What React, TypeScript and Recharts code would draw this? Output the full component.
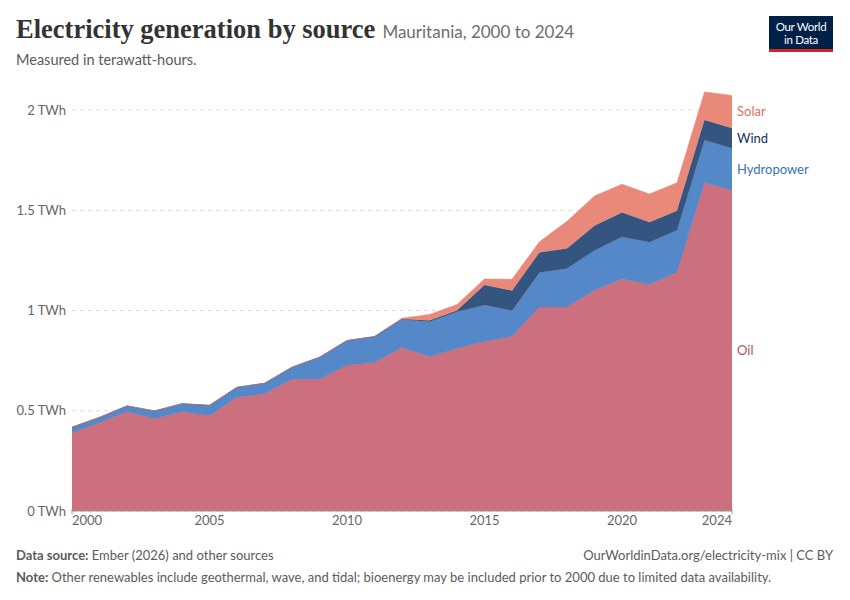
import React from 'react';
import { AreaChart, Area, XAxis, YAxis, CartesianGrid, ReferenceDot } from 'recharts';

const years = [2000, 2001, 2002, 2003, 2004, 2005, 2006, 2007, 2008, 2009, 2010, 2011, 2012,
  2013, 2014, 2015, 2016, 2017, 2018, 2019, 2020, 2021, 2022, 2023, 2024];

// TWh per source
const oil = [0.39, 0.44, 0.495, 0.46, 0.495, 0.475, 0.567, 0.584, 0.657, 0.657, 0.727, 0.74, 0.816,
  0.77, 0.81, 0.845, 0.87, 1.017, 1.017, 1.1, 1.157, 1.13, 1.19, 1.637, 1.6];
const hydropower = [0.028, 0.027, 0.029, 0.039, 0.04, 0.052, 0.05, 0.053, 0.06, 0.11, 0.123, 0.13, 0.142,
  0.174, 0.184, 0.182, 0.129, 0.173, 0.193, 0.2, 0.211, 0.21, 0.21, 0.213, 0.209];
const wind = [0, 0, 0, 0, 0, 0, 0, 0, 0, 0, 0, 0, 0,
  0.006, 0.006, 0.1, 0.1, 0.1, 0.1, 0.123, 0.121, 0.1, 0.098, 0.1, 0.1];
const solar = [0, 0, 0, 0, 0, 0, 0, 0, 0, 0, 0, 0, 0.004,
  0.03, 0.03, 0.03, 0.057, 0.053, 0.135, 0.148, 0.141, 0.141, 0.139, 0.14, 0.164];

const yTicks = [0, 0.5, 1, 1.5, 2];
const xTicks = [2000, 2005, 2010, 2015, 2020, 2024];

const COLORS = {
  oil: '#cc7080',
  hydro: '#5488c8',
  wind: '#33557f',
  solar: '#e8897a',
};

const data = years.map((year, i) => ({
  year,
  oil: oil[i],
  hydropower: hydropower[i],
  wind: wind[i],
  solar: solar[i],
}));

const last = years.length - 1;
const oilTop = oil[last];
const hydroTop = oilTop + hydropower[last];
const windTop = hydroTop + wind[last];
const solarTop = windTop + solar[last];

const seriesLabels = [
  { name: 'Solar', y: (windTop + solarTop) / 2, color: '#e0705e' },
  { name: 'Wind', y: (hydroTop + windTop) / 2, color: '#15335e' },
  { name: 'Hydropower', y: (oilTop + hydroTop) / 2, color: '#3a70bd' },
  { name: 'Oil', y: oilTop / 2, color: '#c24a5e' },
];

const sans = 'Lato, "Noto Sans", sans-serif';

// first and last year labels hug the axis ends, with a small tick mark
const YearTick = (props: any) => {
  const { x, y, payload, index } = props;
  const first = index === 0;
  const lastTick = index === xTicks.length - 1;
  const anchor = first ? 'start' : lastTick ? 'end' : 'middle';
  return (
    <g>
      {(first || lastTick) && <line x1={x} x2={x} y1={y - 2} y2={y + 3} stroke="#999" />}
      <text x={x} y={y + 14} textAnchor={anchor} fontSize={13} fill="#666" fontFamily={sans}>
        {payload.value}
      </text>
    </g>
  );
};

export default function App() {
  return (
    <div style={{ position: 'absolute', left: 0, top: 0, width: 850, height: 600, background: '#fff', fontFamily: sans }}>
      <div style={{ position: 'absolute', left: 16, top: 14, whiteSpace: 'nowrap' }}>
        <span style={{ fontFamily: '"Liberation Serif", "DejaVu Serif", serif', fontWeight: 700, fontSize: 26.5, color: '#333' }}>
          Electricity generation by source
        </span>
        <span style={{ fontSize: 17, color: '#6e6e6e', marginLeft: 7 }}>Mauritania, 2000 to 2024</span>
      </div>
      <div style={{ position: 'absolute', left: 16, top: 51, fontSize: 14.5, color: '#5b5b5b' }}>
        Measured in terawatt-hours.
      </div>

      <div style={{ position: 'absolute', left: 769, top: 16, width: 64, height: 36, background: '#002147', color: '#fff',
        fontSize: 11.5, lineHeight: '13px', textAlign: 'center', paddingTop: 4, boxSizing: 'border-box', letterSpacing: -0.3 }}>
        Our World<br />in Data
        <div style={{ position: 'absolute', left: 0, bottom: 0, width: 64, height: 3, background: '#ce261e' }} />
      </div>

      <div style={{ position: 'absolute', left: 0, top: 0 }}>
        <AreaChart width={850} height={560} data={data} margin={{ top: 90, right: 118, left: 12, bottom: 0 }}>
          <CartesianGrid horizontal vertical={false} horizontalValues={yTicks} stroke="#dddddd" strokeDasharray="4 4" />
          <XAxis
            dataKey="year"
            type="number"
            domain={[2000, 2024]}
            ticks={xTicks}
            height={49}
            stroke="#999"
            tickLine={false}
            tickSize={0}
            tickMargin={0}
            tick={<YearTick />}
          />
          <YAxis
            type="number"
            domain={[0, 2.1]}
            ticks={yTicks}
            width={60}
            axisLine={false}
            tickLine={false}
            tickSize={0}
            tickMargin={6}
            tickFormatter={(v: number) => `${v} TWh`}
            tick={{ fontSize: 13, fill: '#666', fontFamily: sans }}
          />
          <Area dataKey="oil" stackId="1" type="linear" fill={COLORS.oil} fillOpacity={1} stroke="#b86070" strokeWidth={0.6} isAnimationActive={false} />
          <Area dataKey="hydropower" stackId="1" type="linear" fill={COLORS.hydro} fillOpacity={1} stroke="#6a6a8c" strokeWidth={0.6} isAnimationActive={false} />
          <Area dataKey="wind" stackId="1" type="linear" fill={COLORS.wind} fillOpacity={1} stroke="#2c4a70" strokeWidth={0.6} isAnimationActive={false} />
          <Area dataKey="solar" stackId="1" type="linear" fill={COLORS.solar} fillOpacity={1} stroke={COLORS.solar} strokeWidth={0.6} isAnimationActive={false} />
          {seriesLabels.map((s) => (
            <ReferenceDot
              key={s.name}
              x={2024}
              y={s.y}
              r={0}
              ifOverflow="visible"
              label={{ value: s.name, position: 'right', offset: 5, fill: s.color, fontSize: 13, fontFamily: sans }}
            />
          ))}
        </AreaChart>
      </div>

      <div style={{ position: 'absolute', left: 16, top: 547, fontSize: 13, color: '#5b5b5b' }}>
        <b>Data source:</b> Ember (2026) and other sources
      </div>
      <div style={{ position: 'absolute', right: 17, top: 547, fontSize: 13, color: '#5b5b5b' }}>
        OurWorldinData.org/electricity-mix | CC BY
      </div>
      <div style={{ position: 'absolute', left: 16, top: 569, fontSize: 13, color: '#5b5b5b' }}>
        <b>Note:</b> Other renewables include geothermal, wave, and tidal; bioenergy may be included prior to 2000 due to limited data availability.
      </div>
    </div>
  );
}
